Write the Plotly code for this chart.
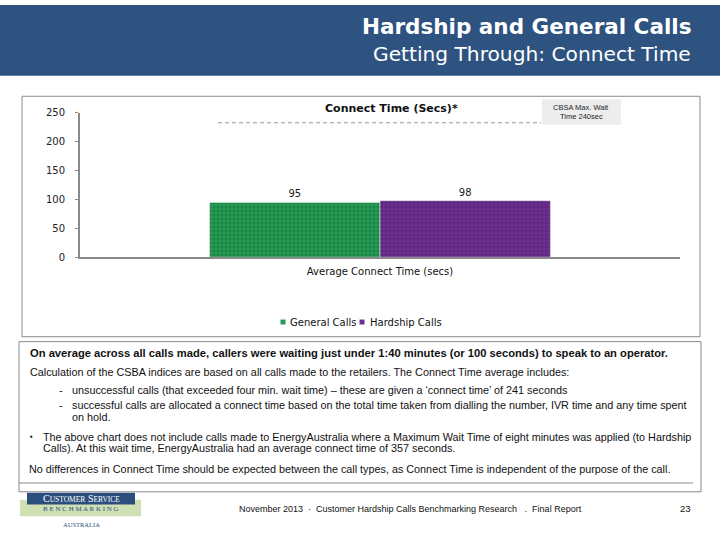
import plotly.graph_objects as go

W, H = 720, 540

# ---- data ----
categories = ["Average Connect Time (secs)"]
series_names = ["General Calls", "Hardship Calls"]
general_calls = [95]
hardship_calls = [98]
series_colors = ["#239A52", "#6B2E8E"]
y_ticks = [0, 50, 100, 150, 200, 250]
cbsa_max_wait_line = 233  # (labelled 240 sec)

def px(x):
    return x / W

def py(y):
    return 1 - y / H

fig = go.Figure()
for name, vals, col in zip(series_names, [general_calls, hardship_calls], series_colors):
    fig.add_trace(go.Bar(
        name=name, x=categories, y=vals,
        marker=dict(color=col, line=dict(width=0.6, color="#E8E8E8"),
                    pattern=dict(shape=".", fgcolor="rgba(0,0,0,0.35)", size=4, solidity=0.3)),
        text=[str(v) for v in vals], textposition="outside",
        textfont=dict(family="DejaVu Sans", size=10, color="#222"),
        cliponaxis=False, showlegend=False,
    ))

shapes = []
shapes.append(dict(type="rect", xref="paper", yref="paper", x0=0, x1=1, y0=py(72), y1=1,
                   fillcolor="#2E5381", line=dict(width=0), layer="below"))
shapes.append(dict(type="rect", xref="paper", yref="paper", x0=px(22), x1=px(700), y0=py(338), y1=py(93),
                   line=dict(color="#8A8A8A", width=1), fillcolor="rgba(0,0,0,0)"))
shapes.append(dict(type="rect", xref="paper", yref="paper", x0=px(19), x1=px(701), y0=py(496), y1=py(343),
                   line=dict(color="#8A8A8A", width=1), fillcolor="rgba(0,0,0,0)"))
shapes.append(dict(type="line", xref="paper", yref="paper", x0=px(19), x1=px(693), y0=py(487), y1=py(487),
                   line=dict(color="#8A8A8A", width=1)))
shapes.append(dict(type="line", xref="paper", yref="y", x0=px(218), x1=px(541),
                   y0=cbsa_max_wait_line, y1=cbsa_max_wait_line,
                   line=dict(color="#999999", width=1, dash="4px,3px")))
shapes.append(dict(type="rect", xref="paper", yref="paper", x0=px(542), x1=px(621), y0=py(122), y1=py(96),
                   fillcolor="#EDEDED", line=dict(width=0)))
# legend squares
for xc, col in zip([283, 362], series_colors):
    shapes.append(dict(type="rect", xref="paper", yref="paper", x0=px(xc - 2.5), x1=px(xc + 2.5),
                       y0=py(325.5), y1=py(320.5), fillcolor=col, line=dict(width=0)))
# logo
shapes.append(dict(type="rect", xref="paper", yref="paper", x0=px(20), x1=px(141), y0=py(521), y1=py(504),
                   fillcolor="#CFE0B4", line=dict(width=0)))
shapes.append(dict(type="rect", xref="paper", yref="paper", x0=px(27), x1=px(135), y0=py(509), y1=py(497),
                   fillcolor="#2C4E7C", line=dict(width=0)))

ann = []
def t(x, y, s, size=10.8, bold=False, color="#111", anchor="left", family="Liberation Sans"):
    ann.append(dict(x=px(x), y=py(y), xref="paper", yref="paper", text=("<b>%s</b>" % s) if bold else s,
                    showarrow=False, xanchor=anchor, yanchor="middle",
                    font=dict(family=family, size=size, color=color)))

t(693, 22, "Hardship and General Calls", size=21.5, bold=True, color="white", anchor="right", family="DejaVu Sans")
t(693, 50, "Getting Through: Connect Time", size=20.2, color="white", anchor="right", family="DejaVu Sans")
t(392, 105, "Connect Time (Secs)*", size=11, bold=True, color="#111", anchor="center", family="DejaVu Sans")
t(581, 104, "CBSA Max. Wait", size=7.5, color="#222", anchor="center", family="Liberation Sans")
t(581, 114, "Time 240sec", size=7.5, color="#222", anchor="center", family="Liberation Sans")

# legend text
t(288, 323, series_names[0], size=10, family="DejaVu Sans")
t(368, 323, series_names[1], size=10, family="DejaVu Sans")

t(28, 355, "On average across all calls made, callers were waiting just under 1:40 minutes (or 100 seconds) to speak to an operator.", size=11.2, bold=True)
t(28, 374, "Calculation of the CSBA indices are based on all calls made to the retailers. The Connect Time average includes:")
t(57, 392, "-")
t(70, 392, "unsuccessful calls (that exceeded four min. wait time) \u2013 these are given a \u2018connect time\u2019 of 241 seconds")
t(57, 408, "-")
t(70, 408, "successful calls are allocated a connect time based on the total time taken from dialling the number, IVR time and any time spent")
t(70, 420, "on hold.")
t(28, 440, "\u25aa", size=8)
t(41, 440, "The above chart does not include calls made to EnergyAustralia where a Maximum Wait Time of eight minutes was applied (to Hardship")
t(41, 451, "Calls). At this wait time, EnergyAustralia had an average connect time of 357 seconds.")
t(27, 473, "No differences in Connect Time should be expected between the call types, as Connect Time is independent of the purpose of the call.")

t(410, 514, "November 2013  \u00b7  Customer Hardship Calls Benchmarking Research   .  Final Report", size=9, anchor="center")
t(693, 513, "23", size=9.5, anchor="right")
t(81, 503, "C<span style='font-size:7.5px'>USTOMER</span> S<span style='font-size:7.5px'>ERVICE</span>", size=10, color="white", anchor="center", family="Liberation Serif")
t(81, 514, "B E N C H M A R K I N G", size=7, color="#2C4E7C", anchor="center", family="Liberation Serif")
t(81, 529, "AUSTRALIA", size=6.5, color="#2C4E7C", anchor="center", family="Liberation Serif")

fig.update_layout(
    width=W, height=H, margin=dict(l=0, r=0, t=0, b=0),
    paper_bgcolor="white", plot_bgcolor="white",
    barmode="group", bargap=0.432, bargroupgap=0,
    showlegend=False,
    shapes=shapes, annotations=ann,
    xaxis=dict(domain=[px(80), px(680)], showgrid=False, showline=True, linecolor="#8A8A8A", linewidth=2,
               ticks="", tickfont=dict(family="DejaVu Sans", size=10, color="#111"), ticklabelstandoff=4),
    yaxis=dict(domain=[py(257), py(110)], range=[0, 250], tickvals=y_ticks, showgrid=False,
               showline=True, linecolor="#8A8A8A", linewidth=2, ticks="outside", ticklen=3,
               tickcolor="#8A8A8A", tickfont=dict(family="DejaVu Sans", size=10, color="#222"),
               zeroline=False, ticklabelstandoff=8),
    font=dict(family="DejaVu Sans"),
)

fig.write_html("out.html", config={"displayModeBar": False},
               post_script="document.body.style.margin='0';document.body.style.padding='0';")
